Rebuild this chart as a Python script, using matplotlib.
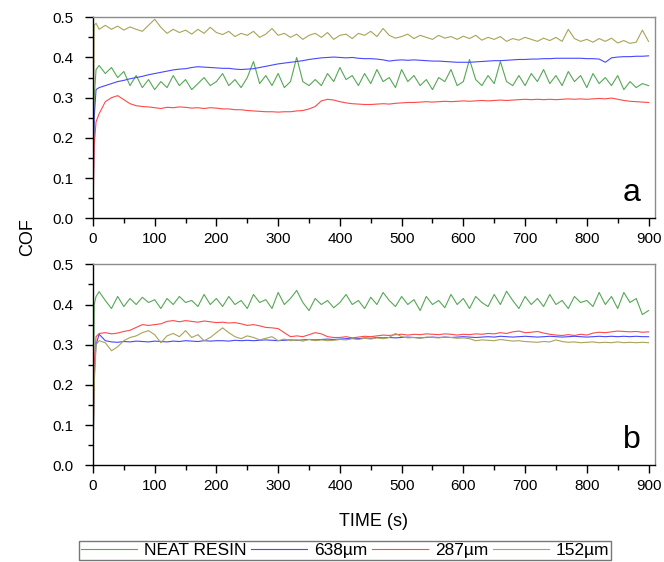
import matplotlib
matplotlib.use("Agg")
import matplotlib.pyplot as plt
from matplotlib.ticker import MultipleLocator

plt.rcParams['font.family'] = ['Liberation Sans', 'DejaVu Sans']

# sampling times (s)
TIME = [0, 2, 5] + list(range(10, 901, 10))

LABELS = ["NEAT RESIN", "638\u00b5m", "287\u00b5m", "152\u00b5m"]
COLORS = ["#55a855", "#4848ff", "#ff4a4a", "#a8a458"]

# ---- panel a ----
a_neat = [0.0, 0.30, 0.37,
          0.38, 0.36, 0.375, 0.35, 0.365, 0.33, 0.355, 0.325, 0.345, 0.32,
          0.34, 0.325, 0.355, 0.33, 0.345, 0.32, 0.335, 0.35, 0.33, 0.34,
          0.36, 0.33, 0.345, 0.325, 0.35, 0.39, 0.335, 0.355, 0.33, 0.36,
          0.325, 0.34, 0.40, 0.34, 0.33, 0.345, 0.33, 0.36, 0.34, 0.375,
          0.345, 0.355, 0.33, 0.36, 0.335, 0.37, 0.34, 0.35, 0.325, 0.37,
          0.34, 0.355, 0.33, 0.345, 0.32, 0.35, 0.34, 0.37, 0.33, 0.34,
          0.395, 0.345, 0.33, 0.355, 0.335, 0.39, 0.34, 0.33, 0.355, 0.33,
          0.36, 0.34, 0.37, 0.335, 0.355, 0.33, 0.365, 0.34, 0.355, 0.325,
          0.36, 0.335, 0.35, 0.33, 0.355, 0.32, 0.34, 0.325, 0.335, 0.33]
a_638 = [0.0, 0.25, 0.32,
         0.325, 0.33, 0.335, 0.34, 0.343, 0.347, 0.35, 0.353, 0.357, 0.36,
         0.363, 0.366, 0.369, 0.371, 0.372, 0.375, 0.377, 0.376, 0.375, 0.374,
         0.373, 0.373, 0.371, 0.37, 0.371, 0.372, 0.375, 0.378, 0.381, 0.384,
         0.386, 0.388, 0.39, 0.392, 0.395, 0.397, 0.399, 0.40, 0.401, 0.40,
         0.399, 0.40, 0.398, 0.397, 0.397, 0.396, 0.394, 0.391, 0.393, 0.394,
         0.393, 0.394, 0.393, 0.392, 0.391, 0.391, 0.39, 0.389, 0.388, 0.388,
         0.388, 0.389, 0.39, 0.391, 0.392, 0.392, 0.393, 0.394, 0.395, 0.395,
         0.396, 0.396, 0.397, 0.397, 0.398, 0.398, 0.398, 0.398, 0.398, 0.397,
         0.397, 0.396, 0.388, 0.399, 0.401, 0.402, 0.402, 0.403, 0.403, 0.404]
a_287 = [0.0, 0.18, 0.24,
         0.26, 0.29, 0.30, 0.305, 0.295, 0.285, 0.28, 0.278, 0.277, 0.275,
         0.273, 0.276, 0.275, 0.277, 0.276, 0.274, 0.275, 0.273, 0.275, 0.274,
         0.272, 0.272, 0.27, 0.27, 0.268, 0.267, 0.266, 0.265, 0.265, 0.264,
         0.265, 0.265, 0.267, 0.268, 0.272, 0.278, 0.292, 0.296, 0.294, 0.29,
         0.287, 0.285, 0.284, 0.283, 0.283, 0.284, 0.285, 0.284, 0.286, 0.287,
         0.288, 0.288, 0.289, 0.29, 0.289, 0.29, 0.291, 0.29, 0.291, 0.292,
         0.291, 0.292, 0.293, 0.292, 0.293, 0.294, 0.293, 0.294, 0.295, 0.296,
         0.295, 0.296, 0.295, 0.296, 0.295, 0.296, 0.297, 0.296, 0.297, 0.296,
         0.297, 0.298, 0.297, 0.299, 0.296, 0.293, 0.291, 0.29, 0.289, 0.288]
a_152 = [0.0, 0.48, 0.485,
         0.47, 0.48, 0.47, 0.478, 0.468, 0.476, 0.47, 0.465, 0.48, 0.495,
         0.475, 0.46, 0.47, 0.462, 0.468, 0.458, 0.47, 0.46, 0.475, 0.462,
         0.457, 0.465, 0.452, 0.46, 0.455, 0.465, 0.45, 0.458, 0.472, 0.455,
         0.46, 0.45, 0.458, 0.445, 0.455, 0.46, 0.45, 0.462, 0.445, 0.455,
         0.458, 0.447, 0.46, 0.455, 0.465, 0.452, 0.472, 0.455, 0.448, 0.452,
         0.458, 0.447, 0.455, 0.45, 0.445, 0.455, 0.448, 0.452, 0.445, 0.453,
         0.447, 0.455, 0.443, 0.45, 0.445, 0.452, 0.44, 0.447, 0.443, 0.45,
         0.445, 0.44, 0.448, 0.442, 0.45, 0.44, 0.47, 0.447, 0.44, 0.445,
         0.438, 0.447, 0.44, 0.448, 0.436, 0.442, 0.435, 0.438, 0.468, 0.44]

# ---- panel b ----
b_neat = [0.0, 0.40, 0.42,
          0.432, 0.41, 0.39, 0.42, 0.395, 0.415, 0.40, 0.418, 0.405, 0.412,
          0.39, 0.415, 0.40, 0.42, 0.405, 0.41, 0.395, 0.425, 0.40, 0.415,
          0.395, 0.42, 0.40, 0.41, 0.39, 0.425, 0.405, 0.412, 0.39, 0.43,
          0.40, 0.415, 0.435, 0.405, 0.385, 0.415, 0.40, 0.41, 0.392, 0.405,
          0.425, 0.40, 0.41, 0.39, 0.418, 0.40, 0.43, 0.41, 0.395, 0.42,
          0.40, 0.412, 0.385, 0.42, 0.40, 0.41, 0.392, 0.425, 0.40, 0.415,
          0.39, 0.42, 0.405, 0.395, 0.425, 0.40, 0.433, 0.41, 0.39, 0.42,
          0.40, 0.415, 0.395, 0.425, 0.40, 0.41, 0.39, 0.42, 0.405, 0.41,
          0.395, 0.43, 0.40, 0.42, 0.39, 0.43, 0.405, 0.415, 0.375, 0.385]
b_638 = [0.0, 0.22, 0.30,
         0.326, 0.31, 0.307, 0.306, 0.308, 0.307, 0.309, 0.308, 0.307, 0.309,
         0.308, 0.307, 0.309, 0.308, 0.31, 0.309, 0.308, 0.31, 0.309, 0.31,
         0.31, 0.309, 0.311, 0.31, 0.311, 0.31, 0.311, 0.312, 0.311, 0.31,
         0.311, 0.312, 0.311, 0.312, 0.313, 0.312, 0.313, 0.314, 0.313, 0.314,
         0.315, 0.316, 0.315, 0.317, 0.316, 0.318, 0.317, 0.318, 0.317, 0.318,
         0.319, 0.318, 0.317, 0.318, 0.319, 0.318, 0.319, 0.318, 0.319, 0.32,
         0.319, 0.318, 0.319, 0.32, 0.319, 0.321, 0.32, 0.319, 0.32, 0.321,
         0.32, 0.319, 0.32, 0.321, 0.32, 0.319, 0.32, 0.321, 0.32, 0.319,
         0.32, 0.321, 0.32, 0.321, 0.32, 0.321, 0.32, 0.321, 0.32, 0.32]
b_287 = [0.0, 0.25, 0.32,
         0.328, 0.33, 0.327, 0.329, 0.333, 0.336, 0.343, 0.35, 0.348, 0.35,
         0.352, 0.358, 0.36, 0.357, 0.36, 0.358, 0.356, 0.359, 0.357, 0.355,
         0.356, 0.354, 0.355, 0.352, 0.348, 0.35, 0.347, 0.343, 0.342, 0.34,
         0.33, 0.32, 0.322, 0.32, 0.325, 0.33, 0.327, 0.32, 0.318, 0.318,
         0.32, 0.317, 0.319, 0.321, 0.32, 0.322, 0.324, 0.323, 0.325, 0.326,
         0.324, 0.326, 0.325, 0.327, 0.326, 0.325, 0.327, 0.326, 0.324, 0.326,
         0.325, 0.327, 0.326, 0.328, 0.327, 0.33, 0.328, 0.332, 0.334, 0.33,
         0.331, 0.333, 0.329, 0.326, 0.324, 0.323, 0.325, 0.323, 0.326, 0.324,
         0.329, 0.331, 0.33, 0.332, 0.334, 0.333, 0.332, 0.333, 0.331, 0.332]
b_152 = [0.0, 0.20, 0.30,
         0.31, 0.305, 0.285, 0.295, 0.31, 0.318, 0.322, 0.33, 0.335, 0.325,
         0.305, 0.322, 0.328, 0.32, 0.335, 0.318, 0.325, 0.31, 0.318, 0.33,
         0.342, 0.33, 0.32, 0.315, 0.322, 0.318, 0.312, 0.316, 0.32, 0.31,
         0.314, 0.31, 0.312, 0.309, 0.313, 0.31, 0.312, 0.31, 0.311, 0.313,
         0.312, 0.315, 0.313, 0.316, 0.314, 0.317, 0.315, 0.318, 0.328, 0.32,
         0.317, 0.318, 0.316, 0.319, 0.318, 0.317, 0.319, 0.318, 0.316, 0.317,
         0.315, 0.31, 0.312, 0.311, 0.31, 0.313, 0.311, 0.309, 0.31, 0.308,
         0.307, 0.306, 0.308, 0.307, 0.312, 0.308, 0.306, 0.307, 0.305, 0.306,
         0.307, 0.305, 0.306, 0.305, 0.307, 0.305, 0.306, 0.305, 0.306, 0.305]

SERIES_A = [a_neat, a_638, a_287, a_152]
SERIES_B = [b_neat, b_638, b_287, b_152]


def style_axes(ax, letter):
    ax.set_xlim(0, 910)
    ax.set_ylim(0, 0.5)
    ax.xaxis.set_major_locator(MultipleLocator(100))
    ax.xaxis.set_minor_locator(MultipleLocator(50))
    ax.yaxis.set_major_locator(MultipleLocator(0.1))
    ax.yaxis.set_minor_locator(MultipleLocator(0.05))
    ax.yaxis.set_major_formatter(plt.FormatStrFormatter('%.1f'))
    ax.tick_params(which='both', direction='out', top=False, right=False,
                   labelsize=11, width=1, colors='black')
    ax.tick_params(which='major', length=6)
    ax.tick_params(which='minor', length=3.5)
    ax.tick_params(axis='x', which='major', pad=4)
    ax.tick_params(axis='y', which='major', pad=8)
    ax.spines['left'].set_color('black')
    ax.spines['bottom'].set_color('black')
    ax.spines['top'].set_color('#8c8c8c')
    ax.spines['right'].set_color('#8c8c8c')
    for s in ax.spines.values():
        s.set_linewidth(1)
    ax.text(0.975, 0.05, letter, transform=ax.transAxes, ha='right',
            va='bottom', fontsize=23)


fig = plt.figure(figsize=(6.64, 5.62), dpi=100)
ax_a = fig.add_axes([0.140, 0.6116, 0.846, 0.3577])
ax_b = fig.add_axes([0.140, 0.172, 0.846, 0.3577])

lines = []
for ys, lab, col in zip(SERIES_A, LABELS, COLORS):
    ln, = ax_a.plot(TIME, ys, color=col, lw=0.8, label=lab)
    lines.append(ln)
for ys, col in zip(SERIES_B, COLORS):
    ax_b.plot(TIME, ys, color=col, lw=0.8)

style_axes(ax_a, "a")
style_axes(ax_b, "b")

ax_b.set_xlabel("TIME (s)", fontsize=13, labelpad=14)
fig.text(0.041, 0.578, "COF", rotation=90, fontsize=13, ha='center', va='center')

leg = fig.legend(handles=lines, loc='lower center', bbox_to_anchor=(0.52, 0.0),
                 ncol=4, fontsize=12.5, frameon=True, fancybox=False,
                 handlelength=3.2, handletextpad=0.4, columnspacing=0.3,
                 borderpad=0.12, borderaxespad=0.1)
leg.get_frame().set_edgecolor('#555555')
leg.get_frame().set_linewidth(1)

fig.savefig("out.png", dpi=100)
